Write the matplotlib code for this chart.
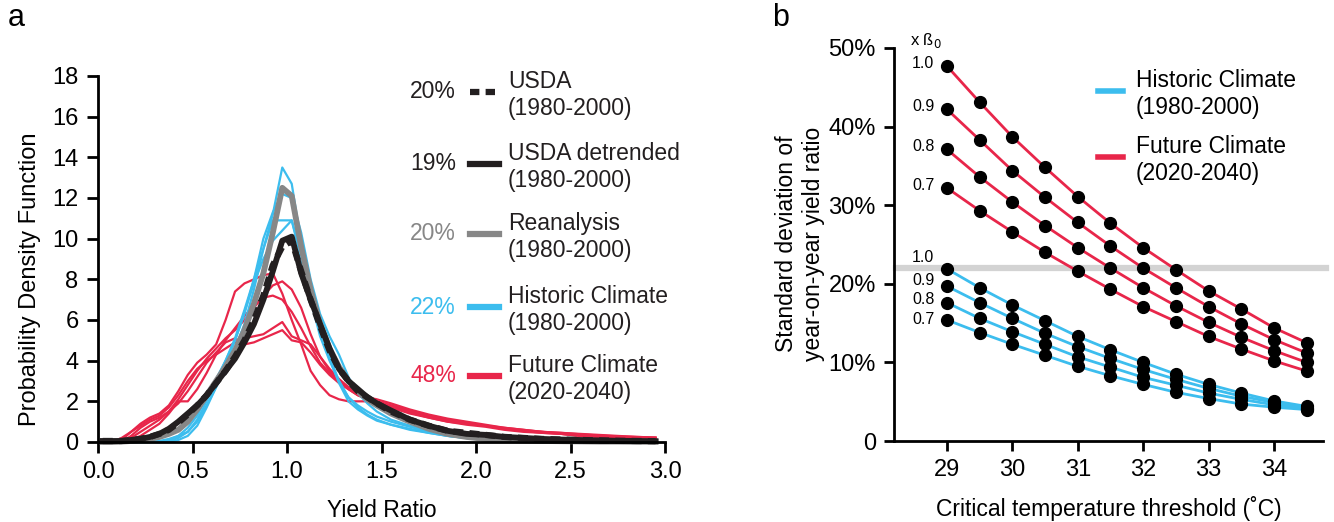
import numpy as np
import matplotlib.pyplot as plt
from matplotlib.lines import Line2D

plt.rcParams['font.family'] = ['Liberation Sans', 'DejaVu Sans']

# ---------------- panel a data: PDFs of yield ratio ----------------
yield_x = [0.025, 0.075, 0.125, 0.175, 0.225, 0.275, 0.325, 0.375, 0.425, 0.475,
           0.525, 0.575, 0.625, 0.675, 0.725, 0.775, 0.825, 0.875, 0.925, 0.975,
           1.025, 1.075, 1.125, 1.175, 1.225, 1.275, 1.325, 1.375, 1.425, 1.475,
           1.55, 1.65, 1.75, 1.85, 1.95, 2.05, 2.15, 2.25, 2.35, 2.45,
           2.55, 2.65, 2.75, 2.85, 2.95]

usda_detrended = [0.05, 0.05, 0.05, 0.1, 0.15, 0.25, 0.4, 0.65, 1.0, 1.4,
                  1.8, 2.3, 2.9, 3.5, 4.1, 4.9, 5.8, 7.0, 8.4, 9.9,
                  10.1, 8.3, 7.0, 5.8, 4.6, 3.6, 3.0, 2.6, 2.2, 1.9,
                  1.55, 1.1, 0.8, 0.55, 0.4, 0.35, 0.25, 0.2, 0.15, 0.12,
                  0.1, 0.08, 0.06, 0.05, 0.04]
usda = [0.05, 0.05, 0.05, 0.1, 0.15, 0.25, 0.4, 0.6, 0.95, 1.35,
        1.8, 2.3, 2.9, 3.5, 4.2, 5.0, 6.0, 7.2, 8.7, 9.6,
        9.9, 8.4, 7.0, 5.7, 4.5, 3.6, 3.0, 2.5, 2.2, 1.9,
        1.5, 1.1, 0.8, 0.55, 0.45, 0.35, 0.25, 0.2, 0.15, 0.12,
        0.1, 0.08, 0.06, 0.05, 0.04]
reanalysis = [0.0, 0.0, 0.02, 0.05, 0.1, 0.15, 0.25, 0.4, 0.6, 1.0,
              1.6, 2.3, 3.0, 3.7, 4.5, 5.5, 6.8, 8.3, 10.3, 12.5,
              12.1, 9.6, 7.5, 5.8, 4.6, 3.7, 3.0, 2.5, 2.1, 1.8,
              1.4, 1.0, 0.65, 0.4, 0.25, 0.15, 0.1, 0.08, 0.05, 0.04,
              0.03, 0.02, 0.02, 0.01, 0.01]

historic_runs = [
    [0.0, 0.0, 0.0, 0.0, 0.0, 0.0, 0.05, 0.15, 0.3, 0.5,
     1.0, 1.8, 2.7, 3.6, 4.6, 5.8, 7.5, 9.5, 11.2, 13.5,
     12.7, 9.8, 7.0, 5.2, 4.0, 3.0, 2.2, 1.8, 1.5, 1.25,
     1.0, 0.75, 0.5, 0.3, 0.2, 0.1, 0.06, 0.04, 0.03, 0.02,
     0.02, 0.01, 0.01, 0.01, 0.01],
    [0.0, 0.0, 0.0, 0.0, 0.0, 0.0, 0.0, 0.1, 0.3, 0.7,
     1.3, 2.2, 3.1, 4.0, 5.0, 6.3, 8.0, 10.0, 11.3, 12.2,
     12.0, 10.3, 8.0, 6.3, 5.2, 4.3, 3.2, 2.4, 1.9, 1.5,
     1.1, 0.8, 0.55, 0.35, 0.2, 0.12, 0.08, 0.05, 0.03, 0.02,
     0.02, 0.01, 0.01, 0.01, 0.01],
    [0.0, 0.0, 0.0, 0.0, 0.0, 0.0, 0.0, 0.05, 0.2, 0.5,
     1.1, 2.0, 3.0, 4.0, 5.1, 6.5, 8.0, 9.5, 10.9, 10.9,
     10.9, 9.0, 7.2, 5.5, 4.2, 3.0, 2.2, 1.7, 1.35, 1.1,
     0.85, 0.6, 0.45, 0.3, 0.2, 0.1, 0.06, 0.04, 0.03, 0.02,
     0.02, 0.01, 0.01, 0.01, 0.01],
    [0.0, 0.0, 0.0, 0.0, 0.0, 0.0, 0.0, 0.0, 0.1, 0.3,
     0.8, 1.7, 2.7, 3.8, 5.0, 6.4, 7.8, 9.0, 9.9, 10.4,
     10.9, 9.2, 7.4, 5.6, 4.1, 2.9, 2.0, 1.6, 1.3, 1.05,
     0.85, 0.65, 0.45, 0.3, 0.2, 0.12, 0.08, 0.05, 0.03, 0.02,
     0.02, 0.01, 0.01, 0.01, 0.01],
]

future_runs = [
    [0.0, 0.0, 0.1, 0.5, 0.9, 1.2, 1.4, 1.8, 2.5, 3.3,
     3.9, 4.3, 4.8, 6.0, 7.4, 7.8, 8.0, 8.2, 8.3, 7.3,
     6.0, 4.8, 3.5, 2.8, 2.3, 2.1, 2.0, 2.0, 2.0, 1.9,
     1.7, 1.4, 1.2, 1.0, 0.9, 0.8, 0.65, 0.55, 0.45, 0.4,
     0.3, 0.25, 0.2, 0.18, 0.15],
    [0.0, 0.0, 0.0, 0.2, 0.5, 0.8, 1.1, 1.5, 2.1, 2.8,
     3.5, 4.1, 4.6, 5.1, 5.5, 6.0, 6.6, 7.2, 7.7, 7.9,
     7.5, 6.6, 5.3, 4.2, 3.5, 3.0, 2.6, 2.3, 2.1, 1.9,
     1.7, 1.45, 1.2, 1.0, 0.85, 0.75, 0.6, 0.5, 0.45, 0.4,
     0.3, 0.25, 0.2, 0.18, 0.15],
    [0.0, 0.0, 0.0, 0.1, 0.3, 0.6, 0.9, 1.4, 2.0, 2.0,
     2.6, 3.4, 4.3, 5.0, 5.6, 6.2, 6.7, 7.1, 7.2, 7.0,
     6.4, 5.6, 4.7, 3.9, 3.4, 3.0, 2.7, 2.4, 2.2, 2.0,
     1.8, 1.5, 1.25, 1.05, 0.9, 0.8, 0.65, 0.55, 0.5, 0.4,
     0.35, 0.3, 0.25, 0.2, 0.2],
    [0.0, 0.0, 0.2, 0.5, 0.8, 1.1, 1.3, 1.7, 2.3, 3.0,
     3.6, 4.0, 4.3, 4.6, 4.9, 5.1, 5.2, 5.3, 5.6, 5.9,
     5.2, 5.0, 4.8, 4.2, 3.6, 3.1, 2.7, 2.4, 2.2, 2.1,
     1.9, 1.6, 1.35, 1.15, 1.0, 0.85, 0.7, 0.6, 0.5, 0.45,
     0.4, 0.35, 0.3, 0.25, 0.22],
    [0.0, 0.0, 0.0, 0.3, 0.7, 1.0, 1.2, 1.5, 1.9, 2.5,
     3.2, 3.9, 4.4, 4.9, 5.1, 4.8, 4.9, 5.1, 5.3, 5.5,
     5.0, 4.9, 4.4, 3.8, 3.3, 2.9, 2.6, 2.3, 2.1, 2.0,
     1.8, 1.55, 1.3, 1.1, 0.95, 0.8, 0.7, 0.6, 0.5, 0.45,
     0.38, 0.32, 0.28, 0.25, 0.22],
]

legend_a_pct = ['20%', '19%', '20%', '22%', '48%']
legend_a_text = ['USDA\n(1980-2000)', 'USDA detrended\n(1980-2000)',
                 'Reanalysis\n(1980-2000)', 'Historic Climate\n(1980-2000)',
                 'Future Climate\n(2020-2040)']

# ---------------- panel b data: std of year-on-year yield ratio ----------------
thresholds = [29, 29.5, 30, 30.5, 31, 31.5, 32, 32.5, 33, 33.5, 34, 34.5]
beta_scale = ['1.0', '0.9', '0.8', '0.7']
future_sd = [
    [47.7, 43.1, 38.7, 34.8, 31.1, 27.7, 24.6, 21.8, 19.1, 16.8, 14.4, 12.5],
    [42.2, 38.3, 34.4, 31.0, 27.8, 24.8, 22.0, 19.5, 17.1, 14.9, 12.9, 11.2],
    [37.1, 33.6, 30.4, 27.4, 24.6, 22.0, 19.5, 17.2, 15.1, 13.2, 11.5, 10.0],
    [32.2, 29.3, 26.6, 24.0, 21.6, 19.3, 17.1, 15.2, 13.3, 11.7, 10.2, 8.9],
]
historic_sd = [
    [21.9, 19.5, 17.3, 15.3, 13.3, 11.6, 10.0, 8.5, 7.2, 6.1, 5.1, 4.4],
    [19.7, 17.6, 15.6, 13.7, 12.0, 10.5, 9.1, 7.85, 6.7, 5.7, 4.9, 4.2],
    [17.6, 15.6, 13.9, 12.3, 10.7, 9.4, 8.1, 7.1, 6.1, 5.3, 4.6, 4.1],
    [15.4, 13.8, 12.3, 10.9, 9.5, 8.3, 7.2, 6.2, 5.4, 4.7, 4.3, 4.0],
]
historic_reference = 22.0

BLUE = '#3cbdee'
RED = '#e8264a'
GRAY = '#878787'
BLACK = '#231f20'
FS = 16.5

W, H = 1334, 522
fig = plt.figure(figsize=(W / 100, H / 100), dpi=100)


def fx(px):
    return px / W


def fy(py):
    return 1 - py / H


# ---------------- panel a ----------------
ax = fig.add_axes([fx(98), fy(442), fx(665) - fx(98), fy(76) - fy(442)])
for run in future_runs:
    ax.plot(yield_x, run, color=RED, lw=1.6, clip_on=False)
for run in historic_runs:
    ax.plot(yield_x, run, color=BLUE, lw=1.6, clip_on=False)
ax.plot(yield_x, reanalysis, color=GRAY, lw=4.2, clip_on=False)
ax.plot(yield_x, usda, color=BLACK, lw=4.5, ls=(0, (1.6, 1.0)), clip_on=False)
ax.plot(yield_x, usda_detrended, color=BLACK, lw=4.2, clip_on=False)

ax.set_xlim(0, 3)
ax.set_ylim(0, 18)
ax.set_xticks([0, 0.5, 1, 1.5, 2, 2.5, 3])
ax.set_xticklabels(['0.0', '0.5', '1.0', '1.5', '2.0', '2.5', '3.0'])
ax.set_yticks(range(0, 19, 2))
ax.spines[['top', 'right']].set_visible(False)
ax.spines['left'].set_bounds(0, 18)
ax.spines['bottom'].set_bounds(0, 3)
for s in ['left', 'bottom']:
    ax.spines[s].set_linewidth(2)
ax.tick_params(direction='out', length=8, width=2, labelsize=17, pad=6)
ax.set_xlabel('Yield Ratio', fontsize=FS, labelpad=11)
fig.text(fx(30), fy(279), 'Probability Density Function', rotation=90,
         fontsize=FS + 0.5, ha='center', va='center')

# legend a
leg_rows = [92, 164, 234, 307, 376]
leg_colors = [BLACK, BLACK, GRAY, BLUE, RED]
leg_styles = [(0, (1.5, 1.0)), '-', '-', '-', '-']
for row, pct, txt, c, ls in zip(leg_rows, legend_a_pct, legend_a_text,
                                leg_colors, leg_styles):
    fig.text(fx(456), fy(row), pct, color=c, fontsize=FS, ha='right', va='center')
    fig.add_artist(Line2D([fx(470), fx(499)], [fy(row), fy(row)], color=c,
                          lw=4.5, ls=ls, transform=fig.transFigure))
    fig.text(fx(508), fy(row + 3), txt, fontsize=FS, ha='left', va='center',
             linespacing=1.22, color=BLACK)

fig.text(fx(16), fy(18), 'a', fontsize=22, ha='center', va='center')

# ---------------- panel b ----------------
bx = fig.add_axes([fx(894), fy(441), fx(1323) - fx(894), fy(48) - fy(441)])
bx.axhline(historic_reference, xmin=0.005, xmax=1.008, color='#d3d3d3', lw=4.5,
           clip_on=False, zorder=1)
for series in historic_sd:
    bx.plot(thresholds, series, color=BLUE, lw=2, zorder=2)
for series in future_sd:
    bx.plot(thresholds, series, color=RED, lw=2, zorder=2)
for series in historic_sd + future_sd:
    bx.plot(thresholds, series, 'o', color='black', ms=8.5, zorder=3, clip_on=False)

bx.set_xlim(28.19, 34.75)
bx.set_ylim(0, 50)
bx.set_xticks([29, 30, 31, 32, 33, 34])
bx.set_yticks([0, 10, 20, 30, 40, 50])
bx.set_yticklabels(['0', '10%', '20%', '30%', '40%', '50%'])
bx.spines[['top', 'right']].set_visible(False)
for s in ['left', 'bottom']:
    bx.spines[s].set_linewidth(2)
bx.tick_params(direction='out', length=7, width=2, labelsize=17, pad=6)
bx.set_xlabel('Critical temperature threshold (˚C)', fontsize=FS, labelpad=11)
fig.text(fx(800), fy(244), 'Standard deviation of\nyear-on-year yield ratio',
         rotation=90, fontsize=FS, ha='center', va='center', linespacing=1.22)

# beta multiplier labels
for lab, series in zip(beta_scale, future_sd):
    bx.annotate(lab, (thresholds[0], series[0]), xytext=(-9, 2),
                textcoords='offset points', ha='right', va='center', fontsize=11.5)
blue_offsets = [8, 4, 2, 0]
for lab, series, off in zip(beta_scale, historic_sd, blue_offsets):
    bx.annotate(lab, (thresholds[0], series[0]), xytext=(-9, off),
                textcoords='offset points', ha='right', va='center', fontsize=11.5)
fig.text(fx(910), fy(40), 'x ß$_0$', fontsize=12, ha='left', va='center')

# legend b
for row, c, txt in [(91, BLUE, 'Historic Climate\n(1980-2000)'),
                    (157, RED, 'Future Climate\n(2020-2040)')]:
    fig.add_artist(Line2D([fx(1098), fx(1123)], [fy(row), fy(row)], color=c,
                          lw=4, transform=fig.transFigure))
    fig.text(fx(1136), fy(row + 3), txt, fontsize=FS, ha='left', va='center',
             linespacing=1.22)

fig.text(fx(781), fy(18), 'b', fontsize=22, ha='center', va='center')

fig.savefig('out.png', dpi=100)
